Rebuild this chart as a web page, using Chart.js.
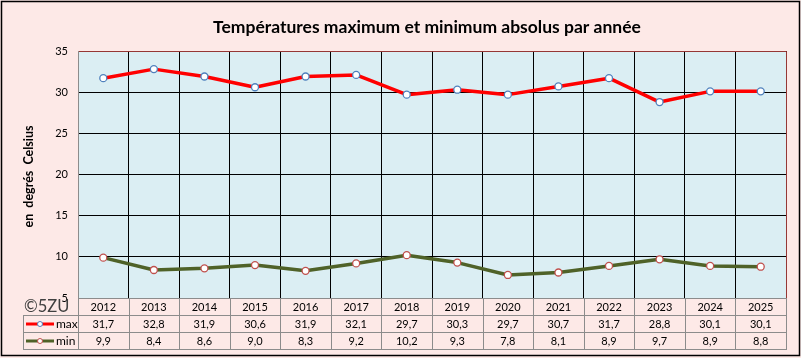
<!DOCTYPE html>
<html>
<head>
<meta charset="utf-8">
<script src="https://cdn.jsdelivr.net/npm/chart.js@4/dist/chart.umd.min.js"></script>
<style>
  body { margin: 0; background: #fff; }
  #wrap { width: 801px; height: 358px; }
</style>
</head>
<body>
<div id="wrap"><canvas id="tempChart" width="801" height="358"></canvas></div>
<script>
// Data
const years = ["2012", "2013", "2014", "2015", "2016", "2017", "2018", "2019", "2020", "2021", "2022", "2023", "2024", "2025"];
const maxTemps = [31.7, 32.8, 31.9, 30.6, 31.9, 32.1, 29.7, 30.3, 29.7, 30.7, 31.7, 28.8, 30.1, 30.1];
const minTemps = [9.9, 8.4, 8.6, 9.0, 8.3, 9.2, 10.2, 9.3, 7.8, 8.1, 8.9, 9.7, 8.9, 8.8];
const yTicks = [5, 10, 15, 20, 25, 30, 35];

const FONT = "Lato, 'Open Sans', sans-serif";
const fmt = v => v.toFixed(1).replace(".", ",");

// Backgrounds, borders, title, axis title and the data table
const decorPlugin = {
  id: "decor",
  beforeDraw(chart) {
    const { ctx, chartArea: a } = chart;
    ctx.save();
    ctx.fillStyle = "#FDE9E7";
    ctx.fillRect(0, 0, chart.width, chart.height);
    ctx.fillStyle = "#DBEEF3";
    ctx.fillRect(a.left, a.top, a.right - a.left, a.bottom - a.top);
    ctx.restore();
  },
  afterDraw(chart) {
    const { ctx, chartArea: a } = chart;
    const x = chart.scales.x;
    ctx.save();

    // plot area border
    ctx.lineWidth = 1;
    ctx.strokeStyle = "#953735";
    ctx.beginPath();
    ctx.moveTo(a.left, a.top + 0.5);
    ctx.lineTo(a.right + 0.5, a.top + 0.5);
    ctx.lineTo(a.right + 0.5, a.bottom);
    ctx.stroke();
    ctx.strokeStyle = "#8C8C8C";
    ctx.beginPath();
    ctx.moveTo(a.left + 0.5, a.top);
    ctx.lineTo(a.left + 0.5, a.bottom);
    ctx.stroke();

    // data table
    const rowH = 17;
    const top = a.bottom;
    const legL = 23;
    const colW = (a.right - a.left) / years.length;
    ctx.strokeStyle = "#8C8C8C";
    ctx.beginPath();
    ctx.moveTo(a.left, top + 0.5); ctx.lineTo(a.right + 1, top + 0.5);
    for (let r = 1; r <= 3; r++) {
      ctx.moveTo(legL, top + r * rowH + 0.5);
      ctx.lineTo(a.right + 1, top + r * rowH + 0.5);
    }
    ctx.moveTo(legL + 0.5, top + rowH); ctx.lineTo(legL + 0.5, top + 3 * rowH + 1);
    for (let i = 0; i <= years.length; i++) {
      const xx = Math.round(a.left + i * colW) + 0.5;
      ctx.moveTo(xx, top); ctx.lineTo(xx, top + 3 * rowH + 1);
    }
    ctx.stroke();

    ctx.fillStyle = "#000";
    ctx.font = "11px " + FONT;
    ctx.textAlign = "center";
    ctx.textBaseline = "middle";
    years.forEach((y, i) => {
      const cx = x.getPixelForValue(i);
      ctx.fillText(y, cx, top + rowH * 0.5 + 1);
      ctx.fillText(fmt(maxTemps[i]), cx, top + rowH * 1.5 + 1);
      ctx.fillText(fmt(minTemps[i]), cx, top + rowH * 2.5 + 1);
    });

    // legend keys in table
    const keys = [
      { label: "max", line: "#FF0000", ring: "#4F81BD" },
      { label: "min", line: "#4F6228", ring: "#C0504D" }
    ];
    keys.forEach((k, r) => {
      const cy = top + rowH * (1.5 + r) + 0.5;
      ctx.strokeStyle = k.line;
      ctx.lineWidth = 3;
      ctx.beginPath();
      ctx.moveTo(26, cy); ctx.lineTo(54, cy);
      ctx.stroke();
      ctx.fillStyle = "#fff";
      ctx.strokeStyle = k.ring;
      ctx.lineWidth = 1;
      ctx.beginPath();
      ctx.arc(40, cy, 2.5, 0, Math.PI * 2);
      ctx.fill(); ctx.stroke();
      ctx.fillStyle = "#000";
      ctx.textAlign = "left";
      ctx.font = "12px " + FONT;
      ctx.fillText(k.label, 56, cy + 0.5);
    });

    // copyright
    ctx.fillStyle = "#404040";
    ctx.font = "16.5px " + FONT;
    ctx.textAlign = "left";
    ctx.fillText("©5ZU", 24, top + 9);

    // title
    ctx.fillStyle = "#000";
    ctx.font = "bold 17.5px " + FONT;
    ctx.textAlign = "center";
    ctx.fillText("Températures maximum et minimum absolus par année", 427, 27);

    // y axis title
    ctx.translate(29, (a.top + a.bottom) / 2 + 2);
    ctx.rotate(-Math.PI / 2);
    ctx.font = "bold 12.5px " + FONT;
    ctx.fillText("en  degrés  Celsius", 0, 0);

    // outer border
    ctx.setTransform(1, 0, 0, 1, 0, 0);
    ctx.strokeStyle = "#000";
    ctx.lineWidth = 1.5;
    ctx.strokeRect(1.5, 1.5, chart.width - 3, chart.height - 4);
    ctx.restore();
  }
};

const ctx = document.getElementById("tempChart").getContext("2d");
new Chart(ctx, {
  type: "line",
  data: {
    labels: years,
    datasets: [
      {
        label: "max",
        data: maxTemps,
        borderColor: "#FF0000",
        borderWidth: 3.5,
        pointRadius: 3.5,
        pointBorderWidth: 1.3,
        pointBackgroundColor: "#FFFFFF",
        pointBorderColor: "#4F81BD",
        borderJoinStyle: "round",
        tension: 0
      },
      {
        label: "min",
        data: minTemps,
        borderColor: "#4F6228",
        borderWidth: 3.5,
        pointRadius: 3.5,
        pointBorderWidth: 1.3,
        pointBackgroundColor: "#FFFFFF",
        pointBorderColor: "#C0504D",
        borderJoinStyle: "round",
        tension: 0
      }
    ]
  },
  options: {
    responsive: false,
    animation: false,
    layout: { padding: { left: 0, right: 15, top: 51, bottom: 60 } },
    plugins: {
      legend: { display: false },
      title: { display: false },
      tooltip: { enabled: false }
    },
    scales: {
      x: {
        type: "category",
        offset: true,
        ticks: { display: false },
        border: { display: false },
        grid: { offset: true, color: "#000", drawTicks: false, lineWidth: 1 },
        afterFit: s => { s.height = 0; }
      },
      y: {
        min: yTicks[0],
        max: yTicks[yTicks.length - 1],
        afterBuildTicks: s => { s.ticks = yTicks.map(v => ({ value: v })); },
        ticks: { color: "#000", font: { size: 11, family: FONT }, padding: 10 },
        border: { display: false },
        grid: {
          drawTicks: false,
          color: c => (c.tick && (c.tick.value === 5 || c.tick.value === 35)) ? "rgba(0,0,0,0)" : "#000"
        },
        afterFit: s => { s.width = 78; }
      }
    }
  },
  plugins: [decorPlugin]
});
</script>
</body>
</html>
